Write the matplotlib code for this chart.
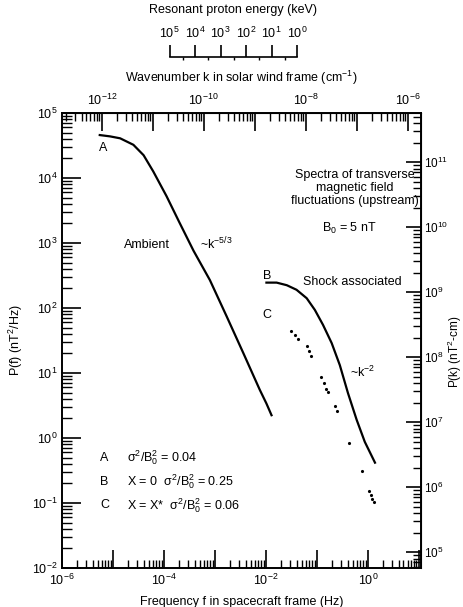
import matplotlib.pyplot as plt
import numpy as np
from matplotlib.ticker import LogLocator, NullFormatter

plt.rcParams['font.family'] = ['Liberation Sans', 'DejaVu Sans']
plt.rcParams['mathtext.fontset'] = 'custom'
plt.rcParams['mathtext.rm'] = 'Liberation Sans'
plt.rcParams['mathtext.it'] = 'Liberation Sans:italic'
plt.rcParams['mathtext.default'] = 'regular'
plt.rcParams['font.size'] = 9

# spectra, log10 values
# A: ambient
logf_a = [-5.26, -5.06, -4.86, -4.60, -4.40, -4.21, -3.95, -3.70, -3.42,
          -3.10, -2.77, -2.44, -2.12, -1.99, -1.89]
logp_a = [4.66, 4.64, 4.61, 4.51, 4.35, 4.10, 3.72, 3.32, 2.88,
          2.43, 1.87, 1.30, 0.74, 0.53, 0.35]
# B: shock associated, X = 0
logf_b = [-1.99, -1.79, -1.59, -1.40, -1.20, -1.04, -0.88, -0.71, -0.55,
          -0.39, -0.22, -0.06, 0.14]
logp_b = [2.39, 2.39, 2.35, 2.28, 2.15, 1.97, 1.74, 1.46, 1.12,
          0.69, 0.28, -0.06, -0.38]
# C: shock associated, X = X* (dotted pieces)
logf_c = [-1.50, -1.43, -1.37, -1.20, -1.16, -1.12, -0.91, -0.86, -0.82,
          -0.78, -0.65, -0.60, -0.37, -0.12, 0.02, 0.06, 0.09, 0.12]
logp_c = [1.64, 1.59, 1.53, 1.42, 1.34, 1.26, 0.94, 0.85, 0.76,
          0.70, 0.49, 0.41, -0.07, -0.51, -0.81, -0.88, -0.94, -0.99]

# axis conversions
K_SHIFT = 6.78   # log f - log k
P_SHIFT = 6.76   # log P(k) - log P(f)
E_F0 = -1.39     # log f where E = 1 keV
energies = [1e5, 1e4, 1e3, 1e2, 1e1, 1e0]

XMIN, XMAX = -6, 1.04

fig = plt.figure(figsize=(4.63, 6.07), dpi=100)
L, W = 0.134, 0.775
ax = fig.add_axes([L, 0.0643, W, 0.7496])
ax.set_xscale('log')
ax.set_yscale('log')
ax.set_xlim(10**XMIN, 10**XMAX)
ax.set_ylim(1e-2, 1e5)

ax.plot(10**np.array(logf_a), 10**np.array(logp_a), color='black', lw=1.6)
ax.plot(10**np.array(logf_b), 10**np.array(logp_b), color='black', lw=1.6)
ax.plot(10**np.array(logf_c), 10**np.array(logp_c), ls='none', marker='.',
        ms=2.5, color='black')

for s in ax.spines.values():
    s.set_linewidth(1.4)

# bottom: frequency
xdec = list(range(-6, 2))
ax.set_xticks([10.0**e for e in xdec])
ax.set_xticklabels(['$10^{%d}$' % e if e % 2 == 0 else '' for e in xdec])
ax.xaxis.set_minor_locator(LogLocator(base=10, subs=np.arange(2, 10), numticks=20))
ax.xaxis.set_minor_formatter(NullFormatter())
ax.tick_params(axis='x', which='major', direction='in', length=13, width=1.2, top=False)
ax.tick_params(axis='x', which='minor', direction='in', length=6, width=1.0, top=False)
ax.set_xlabel('Frequency f in spacecraft frame (Hz)', labelpad=6)

# left: P(f)
ydec = list(range(-2, 6))
ax.set_yticks([10.0**e for e in ydec])
ax.set_yticklabels(['$10^{%d}$' % e for e in ydec])
ax.yaxis.set_minor_locator(LogLocator(base=10, subs=np.arange(2, 10), numticks=20))
ax.yaxis.set_minor_formatter(NullFormatter())
ax.tick_params(axis='y', which='major', direction='in', length=14, width=1.2, right=False)
ax.tick_params(axis='y', which='minor', direction='in', length=7, width=1.0, right=False)
ax.set_ylabel('P(f) (nT$^2$/Hz)', labelpad=5)

# top: wavenumber
secx = ax.secondary_xaxis('top', functions=(lambda f: f * 10**-K_SHIFT,
                                             lambda k: k * 10**K_SHIFT))
kdec = list(range(-12, -5))
secx.set_xticks([10.0**e for e in kdec])
secx.set_xticklabels(['$10^{%d}$' % e if e % 2 == 0 else '' for e in kdec])
secx.xaxis.set_minor_locator(LogLocator(base=10, subs=np.arange(2, 10), numticks=20))
secx.xaxis.set_minor_formatter(NullFormatter())
secx.tick_params(which='major', direction='in', length=13, width=1.2)
secx.tick_params(which='minor', direction='in', length=6, width=1.0)
secx.set_xlabel('Wavenumber k in solar wind frame (cm$^{-1}$)', labelpad=8)

# right: P(k)
secy = ax.secondary_yaxis('right', functions=(lambda p: p * 10**P_SHIFT,
                                               lambda p: p / 10**P_SHIFT))
pdec = list(range(5, 12))
secy.set_yticks([10.0**e for e in pdec])
secy.set_yticklabels(['$10^{%d}$' % e for e in pdec])
secy.yaxis.set_minor_locator(LogLocator(base=10, subs=np.arange(2, 10), numticks=20))
secy.yaxis.set_minor_formatter(NullFormatter())
secy.tick_params(which='major', direction='in', length=11, width=1.2, pad=2,
                 labelsize=8.5)
secy.tick_params(which='minor', direction='in', length=6, width=1.0)
fig.text(455 / 463, 1 - 352 / 607, 'P(k) (nT$^2$-cm)', rotation=90,
         ha='center', va='center', fontsize=8.5)

# resonant proton energy scale above
span = XMAX - XMIN
x0 = L + (E_F0 - 2.5 - XMIN) / span * W
x1 = L + (E_F0 - XMIN) / span * W
ax_e = fig.add_axes([x0, 1 - 58 / 607, x1 - x0, 0.001])
ax_e.set_xscale('log')
ax_e.set_xlim(energies[0], energies[-1])
ax_e.patch.set_visible(False)
for side in ['left', 'right', 'bottom']:
    ax_e.spines[side].set_visible(False)
ax_e.spines['top'].set_linewidth(1.2)
ax_e.set_yticks([])
ax_e.xaxis.tick_top()
ax_e.xaxis.set_label_position('top')
ax_e.set_xticks(energies)
ax_e.set_xticklabels(['$10^{%d}$' % int(np.log10(e)) for e in energies])
ax_e.xaxis.set_minor_locator(LogLocator(base=10, subs=[3.0], numticks=20))
ax_e.xaxis.set_minor_formatter(NullFormatter())
ax_e.tick_params(which='major', direction='out', length=9, width=1.2, pad=3)
ax_e.tick_params(which='minor', direction='in', length=2, width=1.0)
ax_e.set_xlabel('Resonant proton energy (keV)', labelpad=9)

# annotations
ax.text(0.816, 0.835, 'Spectra of transverse\nmagnetic field\nfluctuations (upstream)',
        transform=ax.transAxes, ha='center', va='center', linespacing=1.15)
ax.text(0.80, 0.747, 'B$_0$ = 5 nT', transform=ax.transAxes, ha='center', va='center')
ax.text(0.237, 0.710, 'Ambient', transform=ax.transAxes, ha='center', va='center')
ax.text(0.384, 0.712, '~k$^{-5/3}$', transform=ax.transAxes, ha='left', va='center')
ax.text(0.671, 0.629, 'Shock associated', transform=ax.transAxes, ha='left', va='center')
ax.text(0.802, 0.429, '~k$^{-2}$', transform=ax.transAxes, ha='left', va='center')
ax.text(0.114, 0.923, 'A', transform=ax.transAxes, ha='center', va='center')
ax.text(0.571, 0.642, 'B', transform=ax.transAxes, ha='center', va='center')
ax.text(0.571, 0.556, 'C', transform=ax.transAxes, ha='center', va='center')

rows = [('A', r'$\sigma^2/B_0^2$ = 0.04', 0.242),
        ('B', r'X = 0  $\sigma^2/B_0^2$ = 0.25', 0.189),
        ('C', r'X = X*  $\sigma^2/B_0^2$ = 0.06', 0.138)]
for lab, txt, yy in rows:
    ax.text(0.106, yy, lab, transform=ax.transAxes, ha='left', va='center')
    ax.text(0.180, yy, txt, transform=ax.transAxes, ha='left', va='center')

fig.savefig('out.png', dpi=100)
